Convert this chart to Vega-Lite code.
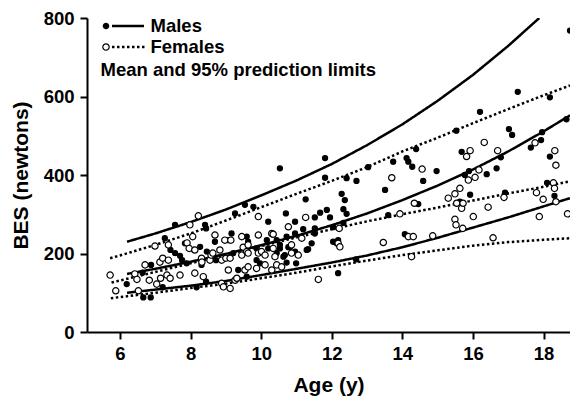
{
  "$schema": "https://vega.github.io/schema/vega-lite/v6.json",
  "autosize": {"type": "none"},
  "padding": {"left": 87, "top": 18, "right": 0, "bottom": 64},
  "width": 483,
  "height": 314,
  "background": "white",
  "config": {
    "view": {"stroke": null},
    "font": "Liberation Sans",
    "axis": {
      "grid": false,
      "domainColor": "black",
      "domainWidth": 2,
      "tickColor": "black",
      "tickWidth": 2,
      "tickSize": 7,
      "labelFont": "Liberation Sans",
      "labelFontSize": 18.5,
      "labelFontWeight": "bold",
      "labelColor": "black",
      "titleFont": "Liberation Sans",
      "titleFontSize": 21,
      "titleFontWeight": "bold",
      "titleColor": "black"
    }
  },
  "datasets": {
    "pts": [
      {"sex":"Males","age":6.19,"bes":122},{"sex":"Males","age":6.64,"bes":151},{"sex":"Males","age":6.66,"bes":88},{"sex":"Males","age":6.87,"bes":88},{"sex":"Males","age":6.88,"bes":171},{"sex":"Males","age":7.21,"bes":114},{"sex":"Males","age":7.27,"bes":239},{"sex":"Males","age":7.43,"bes":209},{"sex":"Males","age":7.56,"bes":273},{"sex":"Males","age":7.7,"bes":194},{"sex":"Males","age":7.84,"bes":226},{"sex":"Males","age":7.89,"bes":175},{"sex":"Males","age":7.76,"bes":183},{"sex":"Males","age":7.56,"bes":201},{"sex":"Males","age":8.1,"bes":209},{"sex":"Males","age":8.17,"bes":114},{"sex":"Males","age":8.31,"bes":171},{"sex":"Males","age":8.44,"bes":264},{"sex":"Males","age":8.44,"bes":128},{"sex":"Males","age":8.46,"bes":205},{"sex":"Males","age":8.27,"bes":217},{"sex":"Males","age":8.41,"bes":273},{"sex":"Males","age":8.69,"bes":230},{"sex":"Males","age":8.72,"bes":183},{"sex":"Males","age":9.07,"bes":234},{"sex":"Males","age":9.16,"bes":251},{"sex":"Males","age":9.21,"bes":201},{"sex":"Males","age":9.26,"bes":302},{"sex":"Males","age":9.35,"bes":158},{"sex":"Males","age":9.54,"bes":324},{"sex":"Males","age":9.59,"bes":243},{"sex":"Males","age":9.63,"bes":230},{"sex":"Males","age":9.59,"bes":141},{"sex":"Males","age":9.78,"bes":319},{"sex":"Males","age":9.87,"bes":213},{"sex":"Males","age":9.87,"bes":183},{"sex":"Males","age":9.97,"bes":175},{"sex":"Males","age":10.16,"bes":234},{"sex":"Males","age":10.2,"bes":281},{"sex":"Males","age":10.2,"bes":213},{"sex":"Males","age":10.44,"bes":201},{"sex":"Males","age":10.44,"bes":234},{"sex":"Males","age":10.53,"bes":213},{"sex":"Males","age":10.53,"bes":222},{"sex":"Males","age":10.53,"bes":417},{"sex":"Males","age":10.63,"bes":192},{"sex":"Males","age":10.67,"bes":196},{"sex":"Males","age":10.7,"bes":302},{"sex":"Males","age":10.72,"bes":243},{"sex":"Males","age":10.72,"bes":177},{"sex":"Males","age":10.77,"bes":216},{"sex":"Males","age":10.82,"bes":217},{"sex":"Males","age":10.96,"bes":281},{"sex":"Males","age":10.96,"bes":251},{"sex":"Males","age":10.96,"bes":205},{"sex":"Males","age":10.99,"bes":175},{"sex":"Males","age":11.26,"bes":338},{"sex":"Males","age":11.19,"bes":262},{"sex":"Males","age":11.29,"bes":209},{"sex":"Males","age":11.33,"bes":211},{"sex":"Males","age":11.43,"bes":226},{"sex":"Males","age":11.52,"bes":292},{"sex":"Males","age":11.52,"bes":264},{"sex":"Males","age":11.52,"bes":251},{"sex":"Males","age":11.67,"bes":304},{"sex":"Males","age":11.81,"bes":443},{"sex":"Males","age":11.81,"bes":393},{"sex":"Males","age":11.86,"bes":311},{"sex":"Males","age":11.95,"bes":292},{"sex":"Males","age":12.04,"bes":267},{"sex":"Males","age":12.04,"bes":230},{"sex":"Males","age":12.14,"bes":226},{"sex":"Males","age":12.18,"bes":234},{"sex":"Males","age":12.18,"bes":150},{"sex":"Males","age":12.28,"bes":352},{"sex":"Males","age":12.33,"bes":313},{"sex":"Males","age":12.33,"bes":278},{"sex":"Males","age":12.37,"bes":336},{"sex":"Males","age":12.42,"bes":301},{"sex":"Males","age":12.42,"bes":392},{"sex":"Males","age":12.69,"bes":185},{"sex":"Males","age":12.7,"bes":385},{"sex":"Males","age":13.03,"bes":420},{"sex":"Males","age":13.51,"bes":362},{"sex":"Males","age":13.6,"bes":298},{"sex":"Males","age":13.74,"bes":434},{"sex":"Males","age":14.07,"bes":249},{"sex":"Males","age":14.12,"bes":443},{"sex":"Males","age":14.17,"bes":434},{"sex":"Males","age":14.28,"bes":421},{"sex":"Males","age":14.39,"bes":466},{"sex":"Males","age":14.45,"bes":326},{"sex":"Males","age":14.59,"bes":385},{"sex":"Males","age":14.97,"bes":410},{"sex":"Males","age":15.53,"bes":513},{"sex":"Males","age":15.63,"bes":332},{"sex":"Males","age":15.68,"bes":459},{"sex":"Males","age":15.77,"bes":400},{"sex":"Males","age":15.89,"bes":410},{"sex":"Males","age":15.92,"bes":350},{"sex":"Males","age":16.2,"bes":561},{"sex":"Males","age":16.39,"bes":402},{"sex":"Males","age":16.67,"bes":417},{"sex":"Males","age":16.79,"bes":445},{"sex":"Males","age":16.91,"bes":355},{"sex":"Males","age":17.02,"bes":517},{"sex":"Males","age":17.11,"bes":502},{"sex":"Males","age":17.27,"bes":612},{"sex":"Males","age":17.64,"bes":470},{"sex":"Males","age":17.93,"bes":489},{"sex":"Males","age":17.96,"bes":509},{"sex":"Males","age":18.1,"bes":380},{"sex":"Males","age":18.18,"bes":598},{"sex":"Males","age":18.18,"bes":447},{"sex":"Males","age":18.31,"bes":347},{"sex":"Males","age":18.65,"bes":542},{"sex":"Males","age":18.75,"bes":768},
      {"sex":"Females","age":5.72,"bes":145},{"sex":"Females","age":5.88,"bes":105},{"sex":"Females","age":6.42,"bes":148},{"sex":"Females","age":6.48,"bes":134},{"sex":"Females","age":6.52,"bes":105},{"sex":"Females","age":6.71,"bes":171},{"sex":"Females","age":6.83,"bes":132},{"sex":"Females","age":6.99,"bes":219},{"sex":"Females","age":7.04,"bes":122},{"sex":"Females","age":7.13,"bes":178},{"sex":"Females","age":7.15,"bes":137},{"sex":"Females","age":7.21,"bes":188},{"sex":"Females","age":7.33,"bes":145},{"sex":"Females","age":7.37,"bes":183},{"sex":"Females","age":7.37,"bes":222},{"sex":"Females","age":7.42,"bes":137},{"sex":"Females","age":7.7,"bes":145},{"sex":"Females","age":7.9,"bes":227},{"sex":"Females","age":7.96,"bes":213},{"sex":"Females","age":7.98,"bes":273},{"sex":"Females","age":8.06,"bes":243},{"sex":"Females","age":8.12,"bes":150},{"sex":"Females","age":8.12,"bes":209},{"sex":"Females","age":8.22,"bes":296},{"sex":"Females","age":8.31,"bes":188},{"sex":"Females","age":8.32,"bes":178},{"sex":"Females","age":8.36,"bes":141},{"sex":"Females","age":8.55,"bes":183},{"sex":"Females","age":8.58,"bes":196},{"sex":"Females","age":8.63,"bes":201},{"sex":"Females","age":8.69,"bes":247},{"sex":"Females","age":8.83,"bes":209},{"sex":"Females","age":8.88,"bes":183},{"sex":"Females","age":8.88,"bes":124},{"sex":"Females","age":8.93,"bes":115},{"sex":"Females","age":8.97,"bes":234},{"sex":"Females","age":9.0,"bes":188},{"sex":"Females","age":9.07,"bes":158},{"sex":"Females","age":9.12,"bes":111},{"sex":"Females","age":9.12,"bes":188},{"sex":"Females","age":9.14,"bes":234},{"sex":"Females","age":9.26,"bes":132},{"sex":"Females","age":9.31,"bes":137},{"sex":"Females","age":9.45,"bes":243},{"sex":"Females","age":9.45,"bes":196},{"sex":"Females","age":9.49,"bes":216},{"sex":"Females","age":9.54,"bes":158},{"sex":"Females","age":9.59,"bes":205},{"sex":"Females","age":9.63,"bes":201},{"sex":"Females","age":9.63,"bes":222},{"sex":"Females","age":9.63,"bes":166},{"sex":"Females","age":9.87,"bes":162},{"sex":"Females","age":9.92,"bes":294},{"sex":"Females","age":9.92,"bes":247},{"sex":"Females","age":9.92,"bes":201},{"sex":"Females","age":10.01,"bes":205},{"sex":"Females","age":10.11,"bes":171},{"sex":"Females","age":10.11,"bes":196},{"sex":"Females","age":10.3,"bes":251},{"sex":"Females","age":10.3,"bes":158},{"sex":"Females","age":10.34,"bes":213},{"sex":"Females","age":10.34,"bes":249},{"sex":"Females","age":10.39,"bes":192},{"sex":"Females","age":10.44,"bes":171},{"sex":"Females","age":10.58,"bes":166},{"sex":"Females","age":10.77,"bes":268},{"sex":"Females","age":10.86,"bes":222},{"sex":"Females","age":10.86,"bes":201},{"sex":"Females","age":11.05,"bes":196},{"sex":"Females","age":11.15,"bes":239},{"sex":"Females","age":11.26,"bes":292},{"sex":"Females","age":11.62,"bes":134},{"sex":"Females","age":12.18,"bes":226},{"sex":"Females","age":12.21,"bes":264},{"sex":"Females","age":12.23,"bes":217},{"sex":"Females","age":13.46,"bes":228},{"sex":"Females","age":13.7,"bes":393},{"sex":"Females","age":13.93,"bes":301},{"sex":"Females","age":14.17,"bes":243},{"sex":"Females","age":14.26,"bes":192},{"sex":"Females","age":14.31,"bes":243},{"sex":"Females","age":14.34,"bes":328},{"sex":"Females","age":14.56,"bes":415},{"sex":"Females","age":14.86,"bes":245},{"sex":"Females","age":15.3,"bes":341},{"sex":"Females","age":15.49,"bes":352},{"sex":"Females","age":15.49,"bes":287},{"sex":"Females","age":15.52,"bes":273},{"sex":"Females","age":15.54,"bes":328},{"sex":"Females","age":15.63,"bes":366},{"sex":"Females","age":15.68,"bes":315},{"sex":"Females","age":15.71,"bes":264},{"sex":"Females","age":15.72,"bes":328},{"sex":"Females","age":15.82,"bes":447},{"sex":"Females","age":15.87,"bes":387},{"sex":"Females","age":15.92,"bes":462},{"sex":"Females","age":16.01,"bes":294},{"sex":"Females","age":16.06,"bes":394},{"sex":"Females","age":16.17,"bes":413},{"sex":"Females","age":16.32,"bes":483},{"sex":"Females","age":16.43,"bes":318},{"sex":"Females","age":16.57,"bes":240},{"sex":"Females","age":16.7,"bes":462},{"sex":"Females","age":16.88,"bes":343},{"sex":"Females","age":17.76,"bes":482},{"sex":"Females","age":17.8,"bes":355},{"sex":"Females","age":17.88,"bes":294},{"sex":"Females","age":17.99,"bes":338},{"sex":"Females","age":18.28,"bes":380},{"sex":"Females","age":18.31,"bes":366},{"sex":"Females","age":18.32,"bes":462},{"sex":"Females","age":18.35,"bes":332},{"sex":"Females","age":18.35,"bes":425},{"sex":"Females","age":18.68,"bes":301}
    ],
    "curves": [
      {"curve":"M_up","sex":"Males","age":6.2,"bes":230},{"curve":"M_up","sex":"Males","age":7,"bes":251},{"curve":"M_up","sex":"Males","age":8,"bes":280},{"curve":"M_up","sex":"Males","age":9,"bes":312},{"curve":"M_up","sex":"Males","age":10,"bes":348},{"curve":"M_up","sex":"Males","age":11,"bes":386},{"curve":"M_up","sex":"Males","age":12,"bes":428},{"curve":"M_up","sex":"Males","age":13,"bes":476},{"curve":"M_up","sex":"Males","age":14,"bes":529},{"curve":"M_up","sex":"Males","age":15,"bes":589},{"curve":"M_up","sex":"Males","age":16,"bes":655},{"curve":"M_up","sex":"Males","age":17,"bes":729},{"curve":"M_up","sex":"Males","age":17.88,"bes":800},
      {"curve":"M_mean","sex":"Males","age":6.2,"bes":148},{"curve":"M_mean","sex":"Males","age":7,"bes":161},{"curve":"M_mean","sex":"Males","age":8,"bes":179},{"curve":"M_mean","sex":"Males","age":9,"bes":199},{"curve":"M_mean","sex":"Males","age":10,"bes":221},{"curve":"M_mean","sex":"Males","age":11,"bes":245},{"curve":"M_mean","sex":"Males","age":12,"bes":272},{"curve":"M_mean","sex":"Males","age":13,"bes":302},{"curve":"M_mean","sex":"Males","age":14,"bes":336},{"curve":"M_mean","sex":"Males","age":15,"bes":373},{"curve":"M_mean","sex":"Males","age":16,"bes":414},{"curve":"M_mean","sex":"Males","age":17,"bes":460},{"curve":"M_mean","sex":"Males","age":18,"bes":511},{"curve":"M_mean","sex":"Males","age":18.75,"bes":552},
      {"curve":"M_low","sex":"Males","age":6.2,"bes":100},{"curve":"M_low","sex":"Males","age":7,"bes":108},{"curve":"M_low","sex":"Males","age":8,"bes":118},{"curve":"M_low","sex":"Males","age":9,"bes":130},{"curve":"M_low","sex":"Males","age":10,"bes":145},{"curve":"M_low","sex":"Males","age":11,"bes":161},{"curve":"M_low","sex":"Males","age":12,"bes":177},{"curve":"M_low","sex":"Males","age":13,"bes":195},{"curve":"M_low","sex":"Males","age":14,"bes":216},{"curve":"M_low","sex":"Males","age":15,"bes":240},{"curve":"M_low","sex":"Males","age":16,"bes":266},{"curve":"M_low","sex":"Males","age":17,"bes":292},{"curve":"M_low","sex":"Males","age":18,"bes":320},{"curve":"M_low","sex":"Males","age":18.75,"bes":341},
      {"curve":"F_up","sex":"Females","age":5.72,"bes":188},{"curve":"F_up","sex":"Females","age":6,"bes":195},{"curve":"F_up","sex":"Females","age":7,"bes":222},{"curve":"F_up","sex":"Females","age":8,"bes":251},{"curve":"F_up","sex":"Females","age":9,"bes":284},{"curve":"F_up","sex":"Females","age":10,"bes":318},{"curve":"F_up","sex":"Females","age":11,"bes":352},{"curve":"F_up","sex":"Females","age":12,"bes":385},{"curve":"F_up","sex":"Females","age":13,"bes":420},{"curve":"F_up","sex":"Females","age":14,"bes":460},{"curve":"F_up","sex":"Females","age":15,"bes":495},{"curve":"F_up","sex":"Females","age":16,"bes":532},{"curve":"F_up","sex":"Females","age":17,"bes":568},{"curve":"F_up","sex":"Females","age":18,"bes":603},{"curve":"F_up","sex":"Females","age":18.75,"bes":628},
      {"curve":"F_mean","sex":"Females","age":5.76,"bes":126},{"curve":"F_mean","sex":"Females","age":7,"bes":153},{"curve":"F_mean","sex":"Females","age":8,"bes":175},{"curve":"F_mean","sex":"Females","age":9,"bes":197},{"curve":"F_mean","sex":"Females","age":10,"bes":219},{"curve":"F_mean","sex":"Females","age":11,"bes":241},{"curve":"F_mean","sex":"Females","age":12,"bes":262},{"curve":"F_mean","sex":"Females","age":13,"bes":282},{"curve":"F_mean","sex":"Females","age":14,"bes":300},{"curve":"F_mean","sex":"Females","age":15,"bes":317},{"curve":"F_mean","sex":"Females","age":16,"bes":335},{"curve":"F_mean","sex":"Females","age":17,"bes":353},{"curve":"F_mean","sex":"Females","age":18,"bes":370},{"curve":"F_mean","sex":"Females","age":18.75,"bes":384},
      {"curve":"F_low","sex":"Females","age":5.74,"bes":86},{"curve":"F_low","sex":"Females","age":7,"bes":100},{"curve":"F_low","sex":"Females","age":8,"bes":112},{"curve":"F_low","sex":"Females","age":9,"bes":123},{"curve":"F_low","sex":"Females","age":10,"bes":137},{"curve":"F_low","sex":"Females","age":11,"bes":151},{"curve":"F_low","sex":"Females","age":12,"bes":167},{"curve":"F_low","sex":"Females","age":13,"bes":182},{"curve":"F_low","sex":"Females","age":14,"bes":196},{"curve":"F_low","sex":"Females","age":15,"bes":208},{"curve":"F_low","sex":"Females","age":16,"bes":220},{"curve":"F_low","sex":"Females","age":17,"bes":229},{"curve":"F_low","sex":"Females","age":18,"bes":235},{"curve":"F_low","sex":"Females","age":18.75,"bes":239}
    ]
  },
  "layer": [
    {
      "data": {"name": "curves"},
      "mark": {"type": "line", "color": "black", "strokeWidth": 2.5, "strokeCap": "butt", "clip": true},
      "encoding": {
        "x": {"field": "age", "type": "quantitative", "scale": {"domain": [5.065, 18.75], "nice": false, "zero": false},
              "axis": {"values": [6, 8, 10, 12, 14, 16, 18], "title": "Age (y)", "labelPadding": 5, "titlePadding": 12}},
        "y": {"field": "bes", "type": "quantitative", "scale": {"domain": [0, 800], "nice": false},
              "axis": {"values": [0, 200, 400, 600, 800], "title": "BES (newtons)", "labelPadding": 6, "titlePadding": 12}},
        "detail": {"field": "curve"},
        "strokeDash": {"field": "sex", "type": "nominal", "scale": {"domain": ["Females", "Males"], "range": [[2.5, 2.5], [1, 0]]}, "legend": null}
      }
    },
    {
      "data": {"name": "pts"},
      "mark": {"type": "circle", "stroke": "black", "strokeWidth": 1.2, "opacity": 1, "clip": true},
      "encoding": {
        "x": {"field": "age", "type": "quantitative"},
        "y": {"field": "bes", "type": "quantitative"},
        "size": {"field": "sex", "type": "nominal", "scale": {"domain": ["Females", "Males"], "range": [40, 26]}, "legend": null},
        "fill": {"field": "sex", "type": "nominal", "scale": {"domain": ["Females", "Males"], "range": ["white", "black"]}, "legend": null}
      }
    },
    {
      "data": {"name": "pts"},
      "mark": {"type": "point", "filled": true, "color": "black", "opacity": 0, "size": 400, "clip": true},
      "encoding": {
        "x": {"field": "age", "type": "quantitative"},
        "y": {"field": "bes", "type": "quantitative"},
        "shape": {"field": "sex", "type": "nominal",
          "scale": {"domain": ["Males", "Females"], "range": [
            "M -0.78 0 A 0.33 0.33 0 1 0 -0.12 0 A 0.33 0.33 0 1 0 -0.78 0 Z M 0.15 -0.125 L 3.35 -0.125 L 3.35 0.125 L 0.15 0.125 Z",
            "M -0.83 0 A 0.38 0.38 0 1 0 -0.07 0 A 0.38 0.38 0 1 0 -0.83 0 Z M -0.71 0 A 0.26 0.26 0 1 1 -0.19 0 A 0.26 0.26 0 1 1 -0.71 0 Z M 0.15 -0.125 h 0.25 v 0.25 h -0.25 Z M 0.65 -0.125 h 0.25 v 0.25 h -0.25 Z M 1.15 -0.125 h 0.25 v 0.25 h -0.25 Z M 1.65 -0.125 h 0.25 v 0.25 h -0.25 Z M 2.15 -0.125 h 0.25 v 0.25 h -0.25 Z M 2.65 -0.125 h 0.25 v 0.25 h -0.25 Z M 3.15 -0.125 h 0.25 v 0.25 h -0.25 Z"
          ]},
          "legend": {
            "orient": "none",
            "legendX": 13.5,
            "legendY": -2,
            "padding": 0,
            "title": "Mean and 95% prediction limits",
            "titleOrient": "bottom",
            "titleAnchor": "start",
            "titleAlign": "left",
            "titleFont": "Liberation Sans",
            "titleFontSize": 18.5,
            "titleFontWeight": "bold",
            "titleColor": "black",
            "titleLimit": 500,
            "titlePadding": 4,
            "labelFont": "Liberation Sans",
            "labelFontSize": 18.5,
            "labelFontWeight": "bold",
            "labelColor": "black",
            "labelOffset": 30,
            "labelLimit": 300,
            "symbolSize": 400,
            "symbolFillColor": "black",
            "symbolStrokeWidth": 0,
            "symbolOpacity": 1,
            "rowPadding": 1
          }
        }
      }
    }
  ]
}
